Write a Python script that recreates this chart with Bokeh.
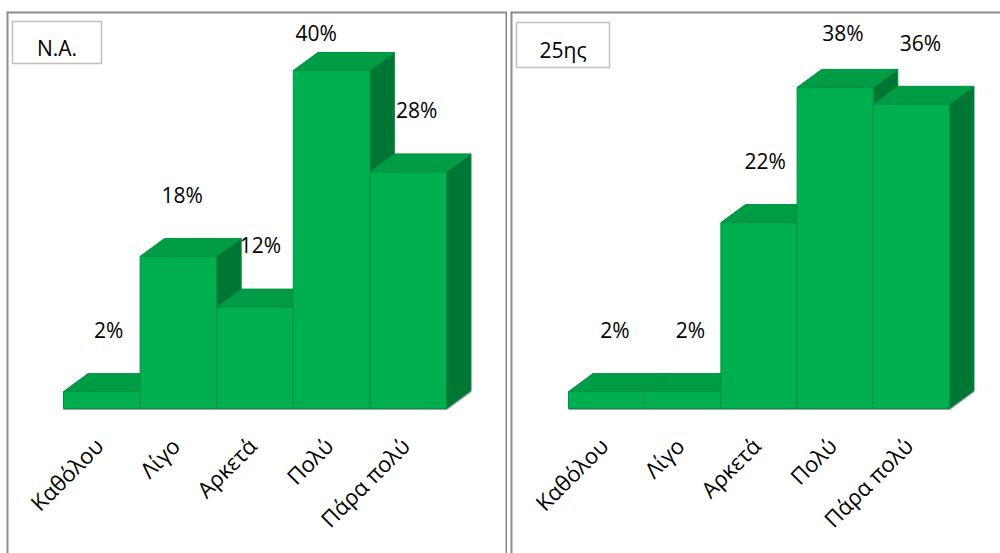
import math
from bokeh.plotting import figure
from bokeh.layouts import row
from bokeh.models import Range1d
from bokeh.core.properties import value
from bokeh.embed import file_html
from bokeh.resources import INLINE

# ---- data ----
categories = ["Καθόλου", "Λίγο", "Αρκετά", "Πολύ", "Πάρα πολύ"]
na_values = [2, 18, 12, 40, 28]
th25_values = [2, 2, 22, 38, 36]
na_title = "N.A."
th25_title = "25ης"

# ---- style ----
FRONT = "#00B050"
TOP = "#009C46"
SIDE = "#007634"
EDGE = "#00903F"
FONT = "Open Sans"
BORDER = "#8c8c8c"

H = 553
TOP_B = 11
BASE_PX = 408      # screen y of bars' front baseline
PPU = 8.45         # pixels per percent
DEPTH_X_PX = 24.5
DEPTH_Y_PX = 18.0


def make_panel(title, values, fig_w, border_left, bar_x0_px, bar_w_px,
               title_box, label_dx, right_border=True):
    frame_w = fig_w - border_left
    x_start = -bar_x0_px / bar_w_px
    x_end = x_start + frame_w / bar_w_px
    y_end = (BASE_PX - TOP_B) / PPU
    y_start = -(H - BASE_PX) / PPU

    def X(px):  # px relative to frame left
        return x_start + px / bar_w_px

    def Y(py):  # absolute screen y
        return (BASE_PX - py) / PPU

    p = figure(width=fig_w, height=H,
               x_range=Range1d(x_start, x_end), y_range=Range1d(y_start, y_end),
               output_backend="svg", toolbar_location=None,
               min_border_left=border_left, min_border_right=0,
               min_border_top=TOP_B, min_border_bottom=0,
               x_axis_location=None, y_axis_location=None)
    p.xgrid.visible = False
    p.ygrid.visible = False
    p.outline_line_color = None
    p.background_fill_color = "white"
    p.border_fill_color = "white"

    # panel border: left, top, right (clipped to frame, so half of width shows)
    bx0 = [x_start, x_start]
    by0 = [y_start, y_end]
    bx1 = [x_start, x_end]
    by1 = [y_end, y_end]
    if right_border:
        bx0.append(x_end); by0.append(y_end); bx1.append(x_end); by1.append(y_start)
    p.segment(x0=bx0, y0=by0, x1=bx1, y1=by1, line_color=BORDER, line_width=4)

    dx = DEPTH_X_PX / bar_w_px
    dy = DEPTH_Y_PX / PPU
    n = len(values)

    # floor shadow
    p.line(x=[0, n, n + dx], y=[0, 0, dy], line_color="#a6a6a6", line_width=3)

    xs, ys, fills = [], [], []
    for i, v in enumerate(values):
        l, r = i, i + 1
        xs.append([r, r + dx, r + dx, r]); ys.append([0, dy, v + dy, v]); fills.append(SIDE)
        xs.append([l, l + dx, r + dx, r]); ys.append([v, v + dy, v + dy, v]); fills.append(TOP)
        xs.append([l, r, r, l]); ys.append([0, 0, v, v]); fills.append(FRONT)
    p.patches(xs=xs, ys=ys, fill_color=fills, line_color=EDGE, line_width=1)

    # value labels
    cap = Y(32)
    lx = [i + 0.5 + label_dx[i] for i in range(n)]
    ly = [min(v + 7.3, cap) for v in values]
    p.text(x=lx, y=ly, text=[f"{v}%" for v in values],
           text_align="center", text_baseline="middle",
           text_font=value(FONT), text_font_size="21px", text_color="black")

    # category labels (rotated)
    p.text(x=[i + 0.5 - 0.04 for i in range(n)], y=[Y(441)] * n, text=categories,
           angle=math.pi / 4, text_align="right", text_baseline="middle",
           text_font=value(FONT), text_font_size="22px", text_color="black")

    # title box
    bl, br, bt, bb = title_box
    p.quad(left=[X(bl)], right=[X(br)], top=[Y(bt)], bottom=[Y(bb)],
           fill_color="white", line_color="#c0c0c0", line_width=1.5)
    p.text(x=[X((bl + br) / 2)], y=[Y((bt + bb) / 2 + 5)], text=[title],
           text_align="center", text_baseline="middle",
           text_font=value(FONT), text_font_size="21px", text_color="black")
    return p


p1 = make_panel(na_title, na_values, fig_w=507, border_left=6,
                bar_x0_px=57, bar_w_px=76.6,
                title_box=(6, 101 - 6, 21, 63),
                label_dx=[0.09, 0.05, 0.07, -0.2, 0.11])
p2 = make_panel(th25_title, th25_values, fig_w=493, border_left=3,
                bar_x0_px=58, bar_w_px=76.2,
                title_box=(6, 99, 22, 67),
                label_dx=[0.11, 0.1, 0.08, 0.1, 0.12],
                right_border=False)

layout = row(p1, p2, spacing=0)
open("out.html", "w").write(file_html(layout, INLINE))
